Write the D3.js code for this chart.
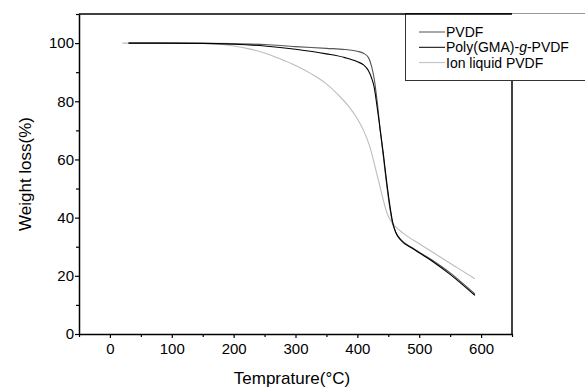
<!DOCTYPE html>
<html>
<head>
<meta charset="utf-8">
<script src="https://cdn.jsdelivr.net/npm/d3@7"></script>
<style>
  html, body { margin: 0; padding: 0; background: #fff; }
  svg { display: block; font-family: "Liberation Sans", Arial, sans-serif; }
</style>
</head>
<body>
<div id="chart"></div>
<script>
// TGA curves: temperature (°C) vs weight (%)
const pvdfT   = [30, 100, 200, 250, 300, 350, 380, 400, 410, 418, 423, 427, 432, 437, 442, 447, 452, 457, 462, 470, 490, 520, 550, 570, 590];
const pvdfW   = [100, 100, 99.8, 99.5, 98.8, 98.2, 97.8, 97.2, 96.5, 95, 92, 88, 80, 70, 61, 52, 44, 38, 35, 32.5, 29.5, 25.5, 21, 17.5, 13.8];
const graftT  = [30, 150, 200, 250, 300, 350, 380, 400, 410, 418, 423, 427, 432, 437, 442, 447, 452, 457, 462, 470, 490, 520, 550, 570, 590];
const graftW  = [100, 99.9, 99.6, 99, 97.9, 96.3, 95, 93.6, 92.5, 90.5, 88, 85, 78, 70, 62, 53, 45, 38.5, 35, 32.3, 29.3, 25.2, 20.5, 17, 13.3];
const ionT    = [20, 100, 150, 180, 200, 225, 250, 275, 300, 325, 350, 370, 385, 400, 410, 420, 428, 435, 442, 448, 455, 462, 475, 500, 530, 560, 590];
const ionW    = [100, 100, 99.9, 99.5, 99, 98, 96.6, 94.6, 92.3, 89.5, 86, 82, 78.5, 74, 70, 64.5, 58, 52, 46, 41.5, 38.5, 36.8, 34.5, 31, 27, 23, 19];

const seriesNames = ["PVDF", "Poly(GMA)-g-PVDF", "Ion liquid PVDF"];
const xTicks = [0, 100, 200, 300, 400, 500, 600];
const yTicks = [0, 20, 40, 60, 80, 100];

const W = 585, H = 387;
const margin = { top: 14, right: 73, bottom: 53, left: 79 };
const width = W - margin.left - margin.right;
const height = H - margin.top - margin.bottom;

const svg = d3.select('#chart').append('svg')
  .attr('width', W).attr('height', H);

const g = svg.append('g')
  .attr('transform', `translate(${margin.left},${margin.top})`);

const x = d3.scaleLinear().domain([-50, 650]).range([0, width]);
const y = d3.scaleLinear().domain([0, 110]).range([height, 0]);

const series = [
  { name: seriesNames[0], t: pvdfT, w: pvdfW, color: '#555' },
  { name: seriesNames[1], t: graftT, w: graftW, color: '#000' },
  { name: seriesNames[2], t: ionT, w: ionW, color: '#bdbdbd' }
];

const line = d3.line()
  .x(d => x(d[0]))
  .y(d => y(d[1]))
  .curve(d3.curveMonotoneX);

// draw light curve first so the dark ones sit on top
[series[2], series[0], series[1]].forEach(s => {
  g.append('path')
    .datum(s.t.map((t, i) => [t, s.w[i]]))
    .attr('fill', 'none')
    .attr('stroke', s.color)
    .attr('stroke-width', 1.1)
    .attr('d', line);
});

// Frame (top and right)
g.append('line').attr('x1', 0).attr('x2', width).attr('y1', 0).attr('y2', 0)
  .attr('stroke', '#000').attr('stroke-width', 1.5);
g.append('line').attr('x1', width).attr('x2', width).attr('y1', 0).attr('y2', height)
  .attr('stroke', '#000').attr('stroke-width', 1.5);

// Axes
g.append('g')
  .attr('transform', `translate(0,${height})`)
  .call(d3.axisBottom(x).tickValues(xTicks).tickSize(4).tickPadding(5).tickSizeOuter(0));
g.append('g')
  .attr('transform', `translate(0,${height})`)
  .call(d3.axisBottom(x).tickValues(d3.range(-50, 651, 100)).tickSize(3).tickFormat('').tickSizeOuter(0))
  .select('.domain').remove();

g.append('g')
  .call(d3.axisLeft(y).tickValues(yTicks).tickSize(4).tickPadding(1).tickSizeOuter(0));
g.append('g')
  .call(d3.axisLeft(y).tickValues(d3.range(10, 111, 20)).tickSize(3).tickFormat('').tickSizeOuter(0))
  .select('.domain').remove();

g.selectAll('.domain').attr('stroke', '#000').attr('stroke-width', 1.5);
g.selectAll('.tick line').attr('stroke', '#000').attr('stroke-width', 1.2);
g.selectAll('.tick text').attr('font-size', 15).attr('fill', '#000')
  .attr('font-family', '"Liberation Sans", Arial, sans-serif');

// Axis titles
svg.append('text')
  .attr('x', 292).attr('y', 384)
  .attr('text-anchor', 'middle')
  .attr('font-size', 17)
  .text('Temprature(°C)');

svg.append('text')
  .attr('transform', 'translate(31,174) rotate(-90)')
  .attr('text-anchor', 'middle')
  .attr('font-size', 17)
  .text('Weight loss(%)');

// Legend
const lg = svg.append('g');
lg.append('rect')
  .attr('x', 405.5).attr('y', 13.5)
  .attr('width', 200).attr('height', 67)
  .attr('fill', '#fff')
  .attr('stroke', '#333').attr('stroke-width', 1);
// frame top edge stays black up to the plot's right side; beyond it the box edge is grey
lg.append('line').attr('x1', 405).attr('x2', margin.left + width).attr('y1', 14).attr('y2', 14)
  .attr('stroke', '#000').attr('stroke-width', 1.5);
lg.append('line').attr('x1', margin.left + width).attr('x2', W).attr('y1', 13.5).attr('y2', 13.5)
  .attr('stroke', '#999').attr('stroke-width', 1);

series.forEach((s, i) => {
  const yy = 32 + i * 15.3;
  lg.append('line')
    .attr('x1', 419).attr('x2', 445).attr('y1', yy).attr('y2', yy)
    .attr('stroke', s.color).attr('stroke-width', 1);
  const t = lg.append('text')
    .attr('x', 446).attr('y', yy + 5)
    .attr('font-size', 14);
  if (i === 1) {
    t.append('tspan').text('Poly(GMA)-');
    t.append('tspan').attr('font-style', 'italic').text('g');
    t.append('tspan').text('-PVDF');
  } else {
    t.text(s.name);
  }
});
</script>
</body>
</html>
